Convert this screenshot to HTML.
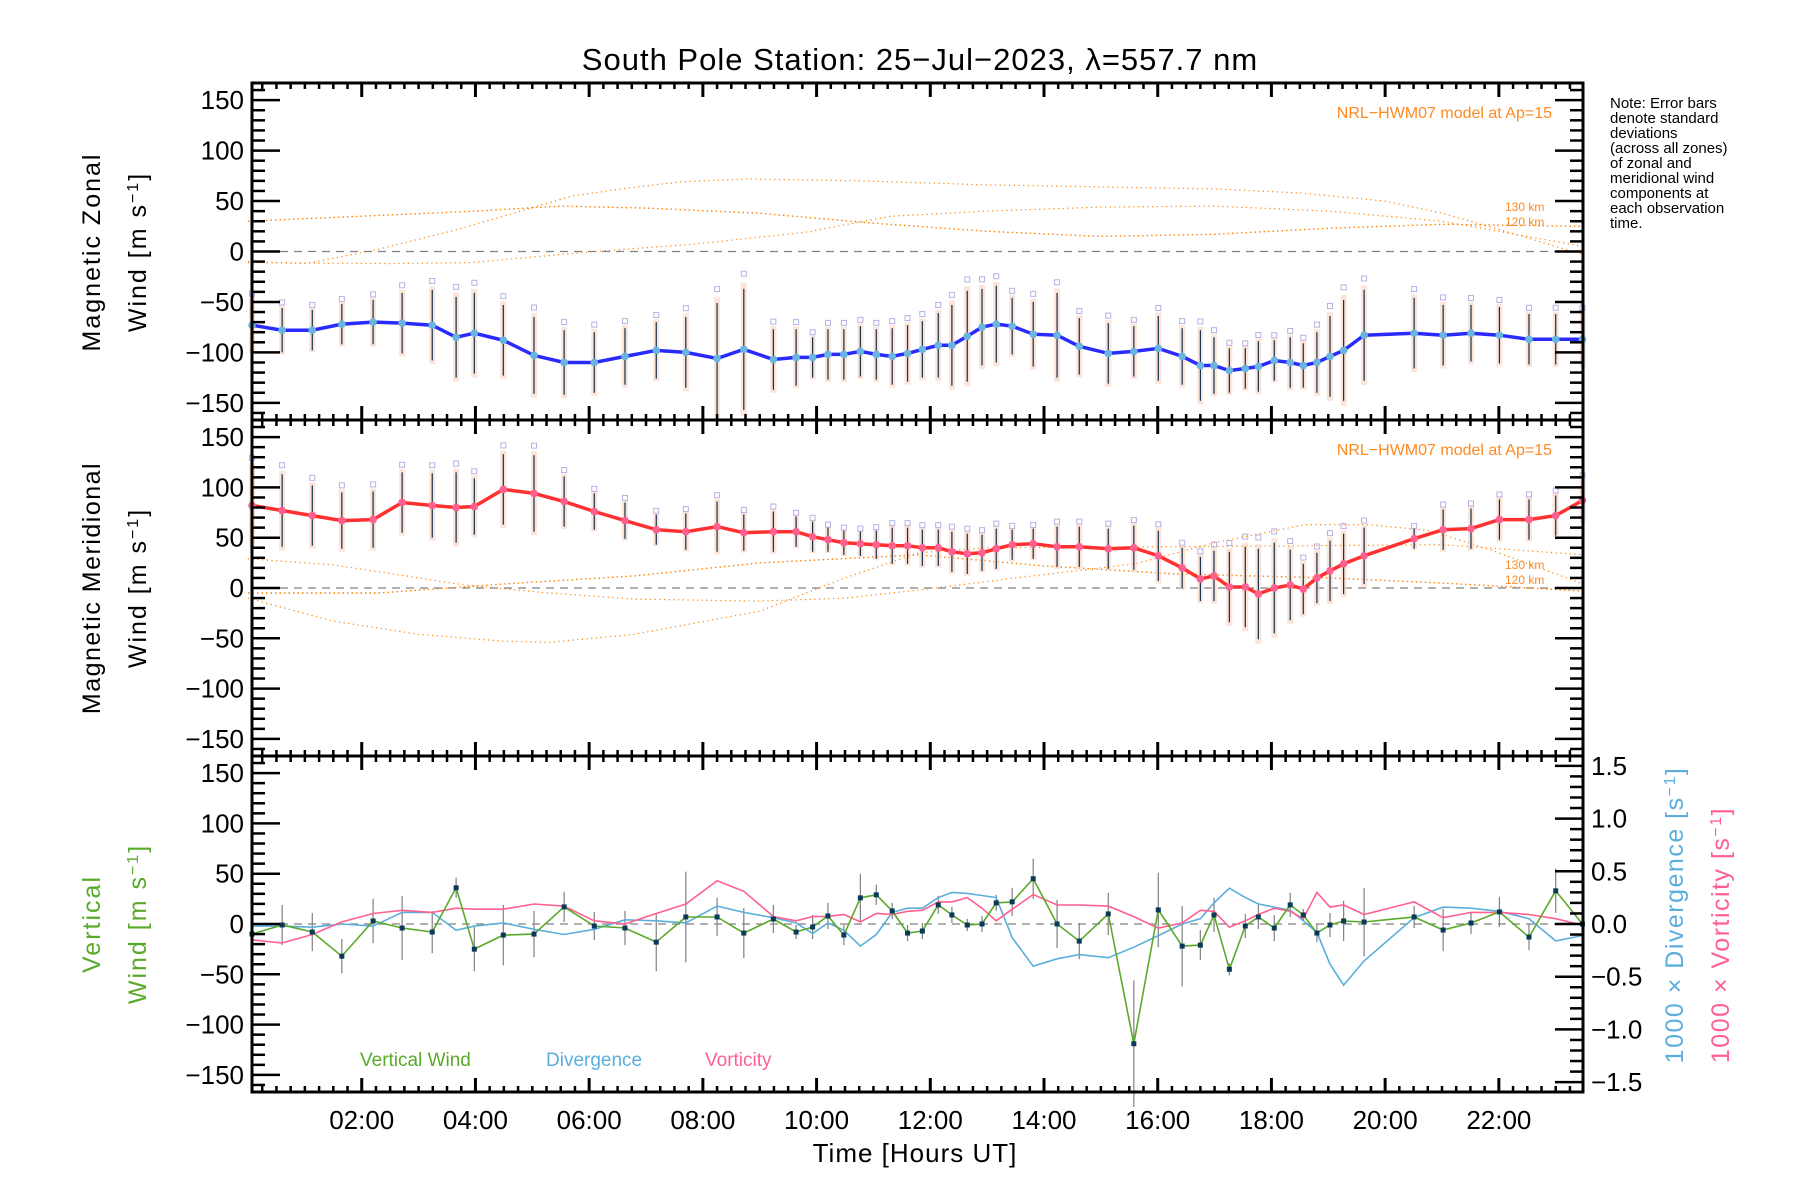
<!DOCTYPE html>
<html><head><meta charset="utf-8"><style>
html,body{margin:0;padding:0;background:#fff;}
svg{display:block;font-family:"Liberation Sans",sans-serif;}
</style></head><body>
<svg id="chart" width="1800" height="1200" viewBox="0 0 1800 1200" xmlns="http://www.w3.org/2000/svg">
<rect x="0" y="0" width="1800" height="1200" fill="#fff"/>
<text x="920" y="70" font-size="31" text-anchor="middle" letter-spacing="1">South Pole Station: 25−Jul−2023, λ=557.7 nm</text>
<g id="marks"></g>
<text transform="translate(100,252) rotate(-90)" font-size="25" text-anchor="middle" letter-spacing="2">Magnetic Zonal</text>
<text transform="translate(146,252) rotate(-90)" font-size="25" text-anchor="middle" letter-spacing="2">Wind [m s<tspan baseline-shift="super" font-size="16">−1</tspan>]</text>
<text transform="translate(100,588) rotate(-90)" font-size="25" text-anchor="middle" letter-spacing="1.5">Magnetic Meridional</text>
<text transform="translate(146,588) rotate(-90)" font-size="25" text-anchor="middle" letter-spacing="2">Wind [m s<tspan baseline-shift="super" font-size="16">−1</tspan>]</text>
<text transform="translate(100,924) rotate(-90)" font-size="25" text-anchor="middle" fill="#5aaa2a" letter-spacing="2">Vertical</text>
<text transform="translate(146,924) rotate(-90)" font-size="25" text-anchor="middle" fill="#5aaa2a" letter-spacing="2">Wind [m s<tspan baseline-shift="super" font-size="16">−1</tspan>]</text>
<text transform="translate(1683,915) rotate(-90)" font-size="25" text-anchor="middle" fill="#5aafdd" letter-spacing="1.5">1000 × Divergence [s<tspan baseline-shift="super" font-size="16">−1</tspan>]</text>
<text transform="translate(1729,935) rotate(-90)" font-size="25" text-anchor="middle" fill="#ff6090" letter-spacing="1.5">1000 × Vorticity [s<tspan baseline-shift="super" font-size="16">−1</tspan>]</text>
<text x="915" y="1162" font-size="26" text-anchor="middle" letter-spacing="1">Time [Hours UT]</text>
<g font-size="15">
<text x="1610" y="108">Note: Error bars</text>
<text x="1610" y="123">denote standard</text>
<text x="1610" y="138">deviations</text>
<text x="1610" y="153">(across all zones)</text>
<text x="1610" y="168">of zonal and</text>
<text x="1610" y="183">meridional wind</text>
<text x="1610" y="198">components at</text>
<text x="1610" y="213">each observation</text>
<text x="1610" y="228">time.</text>
</g>
<text x="1552" y="118" font-size="16" text-anchor="end" fill="#ff8a20">NRL−HWM07 model at Ap=15</text>
<text x="1552" y="455" font-size="16" text-anchor="end" fill="#ff8a20">NRL−HWM07 model at Ap=15</text>
<text x="1505" y="211" font-size="12" fill="#ff8a20">130 km</text>
<text x="1505" y="226" font-size="12" fill="#ff8a20">120 km</text>
<text x="1505" y="569" font-size="12" fill="#ff8a20">130 km</text>
<text x="1505" y="584" font-size="12" fill="#ff8a20">120 km</text>
<text x="360" y="1066" font-size="19" fill="#5aaa2a">Vertical Wind</text>
<text x="546" y="1066" font-size="19" fill="#5aafdd">Divergence</text>
<text x="705" y="1066" font-size="19" fill="#ff6090">Vorticity</text>
</svg>
<script>
const times = [0.07,0.6,1.13,1.65,2.2,2.71,3.24,3.66,3.98,4.49,5.03,5.56,6.09,6.63,7.18,7.7,8.25,8.72,9.24,9.64,9.93,10.2,10.48,10.77,11.05,11.33,11.6,11.86,12.14,12.38,12.65,12.91,13.16,13.44,13.81,14.23,14.62,15.13,15.58,16.01,16.43,16.75,16.99,17.26,17.54,17.77,18.05,18.33,18.56,18.8,19.03,19.27,19.63,20.51,21.02,21.51,22.01,22.53,23.0,23.47];
const zonal = [-73,-78,-78,-72,-70,-71,-73,-85,-81,-88,-103,-110,-110,-104,-98,-100,-106,-97,-107,-105,-105,-102,-102,-99,-102,-104,-101,-97,-93,-93,-84,-75,-72,-74,-82,-83,-94,-101,-99,-96,-104,-113,-113,-118,-116,-114,-108,-110,-113,-110,-104,-98,-83,-81,-83,-81,-83,-87,-87,-87];
const zonalErr = [25,22,20,20,22,30,35,40,40,35,38,32,30,28,28,35,55,60,30,28,20,25,25,25,25,28,28,28,32,40,45,38,38,28,32,42,28,30,25,32,28,35,28,22,20,25,20,25,22,30,40,50,45,35,30,28,28,25,25,25];
const meridional = [82,77,72,67,68,85,82,80,81,98,94,86,76,67,58,56,61,55,56,56,51,48,45,44,43,42,42,40,40,36,34,35,39,43,44,41,41,39,40,32,20,9,12,1,1,-6,0,3,-1,10,17,24,32,49,58,59,68,68,72,87];
const meridionalErr = [38,36,30,28,28,30,32,35,28,35,38,25,18,18,15,18,25,18,20,15,15,12,12,12,14,18,18,18,18,20,20,18,20,15,15,20,20,20,22,25,20,22,25,35,40,45,45,35,25,25,30,30,28,10,20,20,20,20,20,20];
const vertical = [-10,-1,-8,-32,3,-4,-8,36,-25,-11,-10,17,-2,-4,-18,7,7,-9,5,-8,-3,8,-11,26,29,13,-9,-7,19,9,-1,0,21,22,45,0,-17,10,-119,14,-22,-21,9,-45,-2,7,-4,19,9,-9,-1,3,2,7,-6,1,12,-13,33,0];
const verticalErr = [15,20,19,17,22,32,21,10,22,30,23,15,14,17,29,45,19,25,14,7,12,13,10,24,10,8,8,8,9,8,6,8,8,14,20,24,18,21,63,37,40,15,17,6,12,12,13,12,6,9,12,20,34,11,21,11,15,13,22,5];
const divergence = [-0.02,-0.02,-0.03,0,-0.02,0.11,0.11,-0.06,-0.02,0.01,-0.05,-0.1,-0.05,0.04,0.03,0.01,0.17,0.11,0.06,0.01,-0.09,0.01,-0.06,-0.21,-0.1,0.11,0.15,0.15,0.25,0.3,0.29,0.27,0.25,-0.13,-0.4,-0.33,-0.29,-0.32,-0.22,-0.11,0,0.05,0.2,0.34,0.25,0.19,0.16,0.13,0.03,-0.08,-0.38,-0.58,-0.35,0.06,0.16,0.15,0.12,0.05,-0.16,-0.11];
const vorticity = [-0.15,-0.18,-0.1,0.02,0.1,0.13,0.11,0.15,0.14,0.14,0.19,0.17,0.03,0,0.1,0.19,0.41,0.31,0.07,0.03,0.07,0.07,0.09,0.02,0.1,0.09,0.12,0.13,0.21,0.21,0.25,0.15,0.03,0.14,0.28,0.18,0.18,0.17,0.07,-0.04,0.01,0.13,0.12,-0.03,0.03,0.09,0.15,0.12,0.05,0.3,0.16,0.18,0.09,0.21,0.06,0.11,0.11,0.09,0.05,-0.01];
const modelZonalAHours = [0,2,4,5.5,7,9,11,13,15,17,19,21,23.48];
const modelZonalA = [30,35,40,45,43,38,28,20,15,17,23,27,25];
const modelZonalBHours = [0,1,2.2,3.7,5.7,6.7,7.6,8.8,10.8,13,15,17,18.5,20,21,22,23,23.48];
const modelZonalB = [-10,-12,1,22,55,63,69,72,70,66,64,62,58,50,38,22,5,-3];
const modelZonalCHours = [0,2.5,3.9,6.1,7.8,9.8,11.3,13,15,17,19,21,22.5,23.48];
const modelZonalC = [-11,-12,-11,0,7,19,35,40,44,45,40,30,15,5];
const modelMerDHours = [0,1.5,3,3.8,5.3,6.8,9,10.5,11.8,13.5,15.6,17,18.6,19.7,20.8,21.9,23.48];
const modelMerD = [29,23,10,3,-5,-11,-13,-10,-2,10,24,45,63,63,57,37,4];
const modelMerEHours = [0,2.3,4.5,6.8,9,11.8,14,16.3,19,21,23.48];
const modelMerE = [-5,-5,4,12,25,33,22,14,10,5,-3];
const modelMerFHours = [0,1.5,3,4.5,5.3,6.8,9,10.5,11.8,13,16,18.7,21,23.48];
const modelMerF = [-10,-33,-46,-53,-54,-46,-23,10,35,40,41,42,43,33];
const yTicks = [150,100,50,0,-50,-100,-150];
const rightTicks = [1.5,1.0,0.5,0.0,-0.5,-1.0,-1.5];
const xTickHours = [2,4,6,8,10,12,14,16,18,20,22];
const xTickLabels = ["02:00","04:00","06:00","08:00","10:00","12:00","14:00","16:00","18:00","20:00","22:00"];

const NS = "http://www.w3.org/2000/svg";
const g = document.getElementById('marks');
const PL = 252, PR = 1583, XMIN = 0.07, XMAX = 23.48;
const panels = [{top:83,bot:420},{top:420,bot:756},{top:756,bot:1092}];
const YR = 167;
const RIGHT_SCALE = 104.8;
function xs(h){ return PL + (h - XMIN) / (XMAX - XMIN) * (PR - PL); }
function ys(p, v){ const P = panels[p]; const c = (P.top + P.bot) / 2; return c - v * (P.bot - P.top) / (2 * YR); }
function el(tag, attrs){ const e = document.createElementNS(NS, tag); for (const k in attrs) e.setAttribute(k, attrs[k]); g.appendChild(e); return e; }
function poly(p, hs, vs, stroke, w, dash, name){
  let d = '';
  for (let i = 0; i < hs.length; i++) d += (i ? 'L' : 'M') + xs(hs[i]).toFixed(1) + ',' + ys(p, vs[i]).toFixed(1);
  const e = el('path', {d: d, fill: 'none', stroke: stroke, 'stroke-width': w});
  if (dash) e.setAttribute('stroke-dasharray', dash);
  
  
  return e;
}

for (let p = 0; p < 3; p++) {
  const z = el('line', {x1: PL, x2: PR, y1: ys(p, 0), y2: ys(p, 0), stroke: '#808080', 'stroke-width': 1.3, 'stroke-dasharray': '8,6'});
  
  
}
poly(0, modelZonalAHours, modelZonalA, '#ff8000', 1.4, '1.5,3', 'model-zonal-a');
poly(0, modelZonalBHours, modelZonalB, '#ff8000', 1.2, '1.2,3.5', 'model-zonal-b');
poly(0, modelZonalCHours, modelZonalC, '#ff8000', 1.2, '1.2,3.5', 'model-zonal-c');
poly(1, modelMerDHours, modelMerD, '#ff8000', 1.2, '1.2,3.5', 'model-meridional-d');
poly(1, modelMerEHours, modelMerE, '#ff8000', 1.4, '1.5,3', 'model-meridional-e');
poly(1, modelMerFHours, modelMerF, '#ff8000', 1.2, '1.2,3.5', 'model-meridional-f');

function windPanel(p, vals, errs, lineColor, markColor, prefix){
  for (let i = 0; i < times.length; i++) {
    const x = xs(times[i]);
    const bg = el('rect', {x: x - 3, y: ys(p, vals[i] + errs[i] * 1.1), width: 6, height: ys(p, vals[i] - errs[i] * 1.1) - ys(p, vals[i] + errs[i] * 1.1), fill: '#fcd2be', opacity: 0.6});
    
    
    const sq = el('rect', {x: x - 2.5, y: ys(p, vals[i] + errs[i] * 1.25) - 2.5, width: 5, height: 5, fill: 'none', stroke: '#b8b0e4', 'stroke-width': 1});
    
    
    const eb = el('line', {x1: x, x2: x, y1: ys(p, vals[i] + errs[i]), y2: ys(p, vals[i] - errs[i]), stroke: '#0a3050', 'stroke-width': 1.2});
    
    
  }
  poly(p, times, vals, lineColor, 3.5, null, prefix + '-line');
  for (let i = 0; i < times.length; i++) {
    const c = el('circle', {cx: xs(times[i]), cy: ys(p, vals[i]), r: 3.8, fill: markColor});
    
    
  }
}
windPanel(0, zonal, zonalErr, '#2a2aff', '#6ab4e0', 'zonal');
windPanel(1, meridional, meridionalErr, '#ff3030', '#ff6090', 'meridional');

const divL = divergence.map(v => v * RIGHT_SCALE);
const vorL = vorticity.map(v => v * RIGHT_SCALE);
for (let i = 0; i < times.length; i++) {
  const x = xs(times[i]);
  const eb = el('line', {x1: x, x2: x, y1: ys(2, vertical[i] + verticalErr[i]), y2: ys(2, vertical[i] - verticalErr[i]), stroke: '#808080', 'stroke-width': 1.2});
  
  
}
poly(2, times, divL, '#5aafdd', 1.6, null, 'divergence-line');
poly(2, times, vorL, '#ff6090', 1.6, null, 'vorticity-line');
poly(2, times, vertical, '#5aaa2a', 1.6, null, 'vertical-wind-line');
for (let i = 0; i < times.length; i++) {
  const s = el('rect', {x: xs(times[i]) - 2.5, y: ys(2, vertical[i]) - 2.5, width: 5, height: 5, fill: '#0a3a5a'});
  
  
}

for (let p = 0; p < 3; p++) {
  const P = panels[p];
  const fr = el('rect', {x: PL, y: P.top, width: PR - PL, height: P.bot - P.top, fill: 'none', stroke: '#000', 'stroke-width': 3});
  
  
  for (let v = -160; v <= 160; v += 10) {
    const major = (v % 50 === 0);
    const len = major ? 28 : 13;
    const y = ys(p, v);
    const t = el('line', {x1: PL, x2: PL + len, y1: y, y2: y, stroke: '#000', 'stroke-width': 2.5});
    
    
    if (p < 2) {
      const t2 = el('line', {x1: PR, x2: PR - len, y1: y, y2: y, stroke: '#000', 'stroke-width': 2.5});
      
      
    }
  }
  for (const v of yTicks) {
    const tx = el('text', {x: PL - 8, y: ys(p, v) + 9, 'font-size': 26, 'text-anchor': 'end'});
    tx.textContent = (v < 0 ? '−' + (-v) : String(v));
    
    
  }
  for (let h = 0.25; h < XMAX; h += 0.25) {
    if (h < XMIN) continue;
    const major = Math.abs(h / 2 - Math.round(h / 2)) < 1e-6;
    const len = major ? 14 : 6;
    const x = xs(h);
    const a = el('line', {x1: x, x2: x, y1: P.top, y2: P.top + len, stroke: '#000', 'stroke-width': major ? 3 : 2.5});
    
    
    const b = el('line', {x1: x, x2: x, y1: P.bot, y2: P.bot - len, stroke: '#000', 'stroke-width': major ? 3 : 2.5});
    
    
  }
}
for (let k = -16; k <= 16; k++) {
  const v = k / 10;
  const yy = ys(2, v * RIGHT_SCALE);
  if (yy < panels[2].top + 1 || yy > panels[2].bot - 1) continue;
  const major = (k % 5 === 0);
  const t = el('line', {x1: PR, x2: PR - (major ? 28 : 13), y1: yy, y2: yy, stroke: '#000', 'stroke-width': 2.5});
  
  
}
for (const v of rightTicks) {
  const tx = el('text', {x: PR + 8, y: ys(2, v * RIGHT_SCALE) + 9, 'font-size': 26});
  tx.textContent = (v < 0 ? '−' + (-v).toFixed(1) : v.toFixed(1));
  
  
}
for (let i = 0; i < xTickHours.length; i++) {
  const tx = el('text', {x: xs(xTickHours[i]), y: 1129, 'font-size': 26, 'text-anchor': 'middle'});
  tx.textContent = xTickLabels[i];
  
  
}
</script>
</body></html>
